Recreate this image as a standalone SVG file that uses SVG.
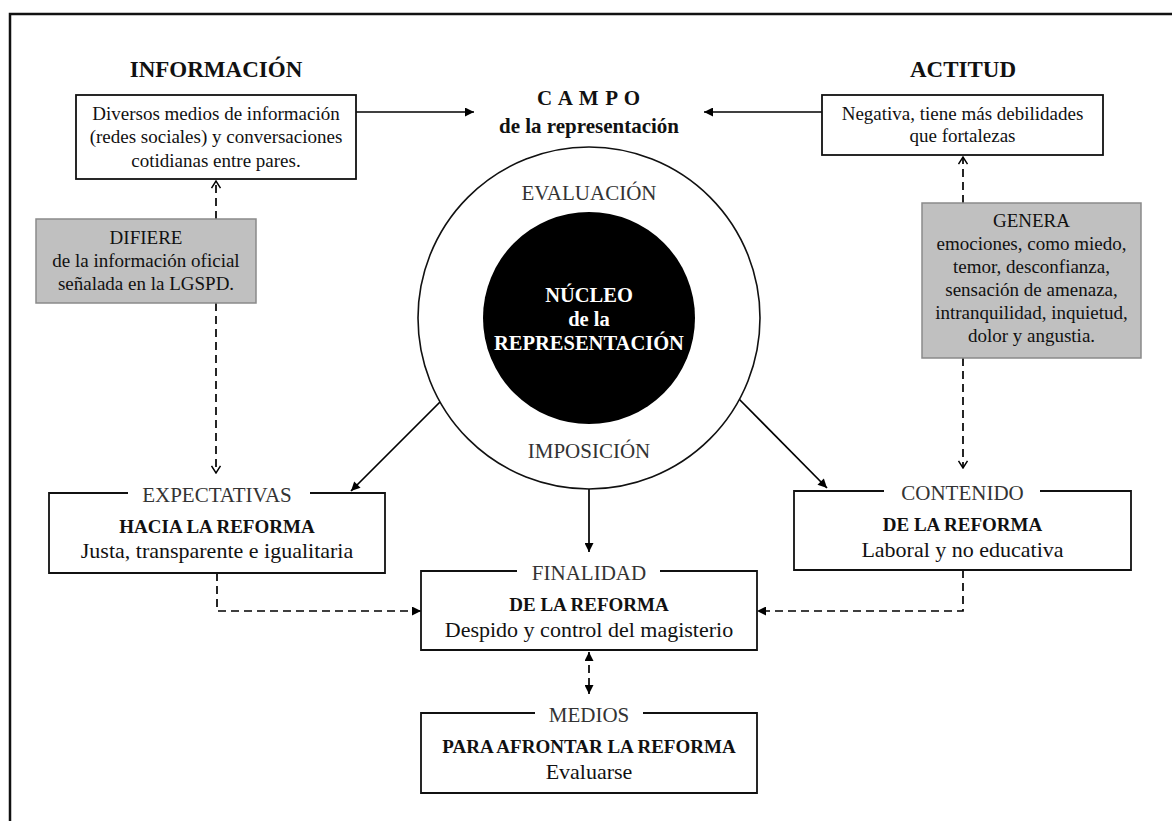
<svg xmlns="http://www.w3.org/2000/svg" width="1172" height="821" viewBox="0 0 1172 821">
  <defs>
    <marker id="tri" viewBox="0 0 10 10" refX="10" refY="5" markerWidth="11" markerHeight="9" markerUnits="userSpaceOnUse" orient="auto-start-reverse">
      <path d="M0,0 L10,5 L0,10 z" fill="#000"/>
    </marker>
    <marker id="vee" viewBox="0 0 10 12" refX="9" refY="6" markerWidth="9" markerHeight="12" markerUnits="userSpaceOnUse" orient="auto">
      <path d="M1,1 L9,6 L1,11" fill="none" stroke="#000" stroke-width="1.6"/>
    </marker>
  </defs>
  <style>
    text { font-family: "Liberation Serif", "Times New Roman", serif; text-anchor: middle; fill: #111; }
    .head { font-size: 23px; font-weight: bold; }
    .campo { font-size: 21px; font-weight: bold; }
    .body { font-size: 19px; }
    .big { font-size: 22px; }
    .sub { font-size: 19px; font-weight: bold; }
    .lbl { font-size: 21px; fill: #333; }
    .core { font-size: 20.5px; font-weight: bold; fill: #fff; }
    .box { fill: #fff; stroke: #111; stroke-width: 1.8; }
    .edge { fill: none; stroke: #111; stroke-width: 1.8; }
    .grey { fill: #c0c0c0; stroke: #8a8a8a; stroke-width: 1.5; }
    .solid { fill: none; stroke: #000; stroke-width: 1.7; }
    .dash { fill: none; stroke: #000; stroke-width: 1.7; stroke-dasharray: 8 5; }
  </style>

  <rect width="1172" height="821" fill="#fff"/>
  <!-- outer frame -->
  <path d="M10,821 V14 H1172" fill="none" stroke="#111" stroke-width="2.5"/>

  <!-- connectors -->
  <g id="connectors">
    <line class="solid" x1="356" y1="112" x2="474" y2="112" marker-end="url(#tri)"/>
    <line class="solid" x1="822" y1="112" x2="704" y2="112" marker-end="url(#tri)"/>
    <line class="dash" x1="216" y1="219" x2="216" y2="181" marker-end="url(#vee)"/>
    <line class="dash" x1="216" y1="303" x2="216" y2="473" marker-end="url(#vee)"/>
    <line class="dash" x1="963" y1="203" x2="963" y2="157" marker-end="url(#vee)"/>
    <line class="dash" x1="963" y1="358" x2="963" y2="468" marker-end="url(#vee)"/>
    <line class="solid" x1="440" y1="402" x2="351" y2="491" marker-end="url(#tri)"/>
    <line class="solid" x1="738" y1="398" x2="827" y2="488" marker-end="url(#tri)"/>
    <line class="solid" x1="589" y1="489" x2="589" y2="552" marker-end="url(#tri)"/>
    <path class="dash" d="M217,573 V611 H421" marker-end="url(#tri)"/>
    <path class="dash" d="M963,570 V611 H757" marker-end="url(#tri)"/>
    <line class="dash" x1="589" y1="652" x2="589" y2="694" stroke-dasharray="6 4" marker-start="url(#tri)" marker-end="url(#tri)"/>
  </g>

  <!-- information -->
  <g id="informacion">
    <text class="head" x="216" y="77">INFORMACIÓN</text>
    <rect class="box" x="76" y="95" width="280" height="84"/>
    <text class="body" x="216" y="120">Diversos medios de información</text>
    <text class="body" x="216" y="143">(redes sociales) y conversaciones</text>
    <text class="body" x="216" y="167">cotidianas entre pares.</text>
  </g>

  <!-- attitude -->
  <g id="actitud">
    <text class="head" x="963" y="77">ACTITUD</text>
    <rect class="box" x="822" y="95" width="281" height="60"/>
    <text class="body" x="962.5" y="120">Negativa, tiene más debilidades</text>
    <text class="body" x="962.5" y="142">que fortalezas</text>
  </g>

  <!-- field of the representation -->
  <g id="campo">
    <text class="campo" x="589" y="105" letter-spacing="0.8">C A M P O</text>
    <text class="campo" x="589" y="133">de la representación</text>
  </g>

  <!-- differs -->
  <g id="difiere">
    <rect class="grey" x="36" y="219" width="220" height="84"/>
    <text class="body" x="146" y="244">DIFIERE</text>
    <text class="body" x="146" y="267">de la información oficial</text>
    <text class="body" x="146" y="290">señalada en la LGSPD.</text>
  </g>

  <!-- generates -->
  <g id="genera">
    <rect class="grey" x="922" y="203" width="219" height="155"/>
    <text class="body" x="1031.5" y="227">GENERA</text>
    <text class="body" x="1031.5" y="250">emociones, como miedo,</text>
    <text class="body" x="1031.5" y="273">temor, desconfianza,</text>
    <text class="body" x="1031.5" y="296">sensación de amenaza,</text>
    <text class="body" x="1031.5" y="319">intranquilidad, inquietud,</text>
    <text class="body" x="1031.5" y="342">dolor y angustia.</text>
  </g>

  <!-- core -->
  <g id="nucleo">
    <circle cx="589" cy="318" r="171" fill="#fff" stroke="#111" stroke-width="1.6"/>
    <circle cx="589" cy="318" r="106" fill="#000"/>
    <text class="lbl" x="589" y="200">EVALUACIÓN</text>
    <text class="lbl" x="589" y="458">IMPOSICIÓN</text>
    <text class="core" x="589" y="302">NÚCLEO</text>
    <text class="core" x="589" y="326">de la</text>
    <text class="core" x="589" y="350">REPRESENTACIÓN</text>
  </g>

  <!-- expectations -->
  <g id="expectativas">
    <rect x="49" y="493" width="336" height="80" fill="#fff"/>
    <path class="edge" d="M128,493 H49 V573 H385 V493 H310"/>
    <text class="lbl" x="217" y="502">EXPECTATIVAS</text>
    <text class="sub" x="217" y="533">HACIA LA REFORMA</text>
    <text class="big" x="217" y="558">Justa, transparente e igualitaria</text>
  </g>

  <!-- content -->
  <g id="contenido">
    <rect x="794" y="491" width="337" height="79" fill="#fff"/>
    <path class="edge" d="M884,491 H794 V570 H1131 V491 H1040"/>
    <text class="lbl" x="962.5" y="500">CONTENIDO</text>
    <text class="sub" x="962.5" y="531">DE LA REFORMA</text>
    <text class="big" x="962.5" y="557">Laboral y no educativa</text>
  </g>

  <!-- purpose -->
  <g id="finalidad">
    <rect x="421" y="571" width="336" height="79" fill="#fff"/>
    <path class="edge" d="M517,571 H421 V650 H757 V571 H660"/>
    <text class="lbl" x="589" y="580">FINALIDAD</text>
    <text class="sub" x="589" y="611">DE LA REFORMA</text>
    <text class="big" x="589" y="637">Despido y control del magisterio</text>
  </g>

  <!-- means -->
  <g id="medios">
    <rect x="421" y="713" width="336" height="80" fill="#fff"/>
    <path class="edge" d="M535,713 H421 V793 H757 V713 H643"/>
    <text class="lbl" x="589" y="722">MEDIOS</text>
    <text class="sub" x="589" y="753">PARA AFRONTAR LA REFORMA</text>
    <text class="big" x="589" y="779">Evaluarse</text>
  </g>
</svg>
